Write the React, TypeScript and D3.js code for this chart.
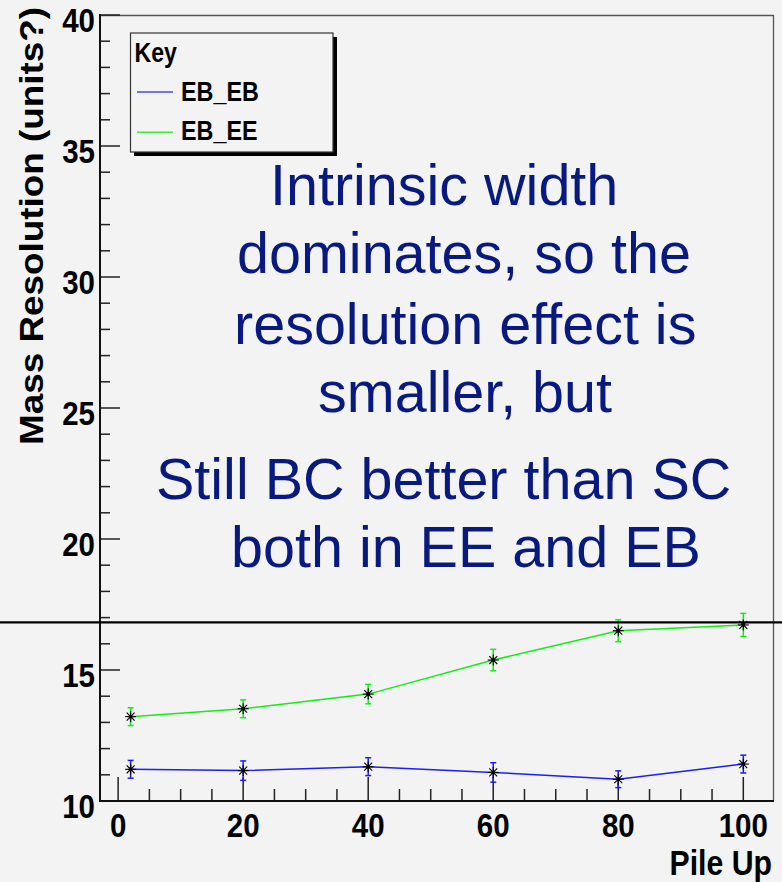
import React from "react";
import * as d3 from "d3";

const pileUp = [2, 20, 40, 60, 80, 100];
const ebEb = [11.21, 11.16, 11.31, 11.09, 10.83, 11.41];
const ebEbErr = [0.34, 0.37, 0.34, 0.37, 0.32, 0.34];
const ebEe = [13.22, 13.52, 14.08, 15.38, 16.5, 16.72];
const ebEeErr = [0.34, 0.34, 0.37, 0.41, 0.42, 0.44];
const seriesNames = ["EB_EB", "EB_EE"];
const seriesColors = ["#1c1cff", "#12ee12"];
const xMajorTicks = [0, 20, 40, 60, 80, 100];
const yMajorTicks = [10, 15, 20, 25, 30, 35, 40];
const annotationLine = 16.82;
const noteLines = [
  "Intrinsic width",
  "dominates, so the",
  "resolution effect is",
  "smaller, but",
  "Still BC better than SC",
  "both in EE and EB",
];

const W = 782;
const H = 882;
const BG = "#f3f3f3";
const NAVY = "#081a7e";
const FONT = "'Liberation Sans', Arial, Helvetica, sans-serif";

export default function App() {
  const x = d3.scaleLinear().domain([-2.9, 104.75]).range([100, 773]);
  const y = d3.scaleLinear().domain([10, 40]).range([801, 15]);

  const xMinor = d3.range(0, 101, 5).filter((v) => !xMajorTicks.includes(v));
  const yMinor = d3.range(10, 41, 1).filter((v) => !yMajorTicks.includes(v));

  const line = d3
    .line<number>()
    .x((_, i) => x(pileUp[i]))
    .y((d) => y(d));

  const series = [
    { vals: ebEb, errs: ebEbErr, color: seriesColors[0] },
    { vals: ebEe, errs: ebEeErr, color: seriesColors[1] },
  ];

  const notePos = [
    { x: 270, y: 205 },
    { x: 237, y: 273 },
    { x: 234, y: 344 },
    { x: 318, y: 412 },
    { x: 156, y: 499 },
    { x: 231, y: 567 },
  ];

  const marker = (cx: number, cy: number, key: string) => {
    const r = 5.5;
    const d = r * 0.72;
    return (
      <g key={key} stroke="#000" strokeWidth={1.1}>
        <line x1={cx - r} y1={cy} x2={cx + r} y2={cy} />
        <line x1={cx} y1={cy - r} x2={cx} y2={cy + r} />
        <line x1={cx - d} y1={cy - d} x2={cx + d} y2={cy + d} />
        <line x1={cx - d} y1={cy + d} x2={cx + d} y2={cy - d} />
        <circle cx={cx} cy={cy} r={2} fill="#000" stroke="none" />
      </g>
    );
  };

  return (
    <svg
      width={W}
      height={H}
      style={{ position: "absolute", left: 0, top: 0, background: BG }}
      fontFamily={FONT}
    >
      <rect x={0} y={0} width={W} height={H} fill={BG} />

      {/* frame top/right */}
      <line x1={100} y1={15.5} x2={773.5} y2={15.5} stroke="#555" strokeWidth={1.3} />
      <line x1={773.5} y1={15} x2={773.5} y2={801} stroke="#555" strokeWidth={1.3} />

      {/* y ticks */}
      {yMajorTicks.map((v) => (
        <line key={"ym" + v} x1={100} x2={120} y1={y(v)} y2={y(v)} stroke="#222" strokeWidth={1.5} />
      ))}
      {yMinor.map((v) => (
        <line key={"yn" + v} x1={100} x2={110} y1={y(v)} y2={y(v)} stroke="#222" strokeWidth={1.5} />
      ))}
      {/* x ticks */}
      {xMajorTicks.map((v) => (
        <line key={"xm" + v} x1={x(v)} x2={x(v)} y1={801} y2={777} stroke="#222" strokeWidth={1.5} />
      ))}
      {xMinor.map((v) => (
        <line key={"xn" + v} x1={x(v)} x2={x(v)} y1={801} y2={789} stroke="#222" strokeWidth={1.5} />
      ))}

      {/* axes */}
      <line x1={100} y1={14} x2={100} y2={802} stroke="#111" strokeWidth={2} />
      <line x1={99} y1={801} x2={774} y2={801} stroke="#111" strokeWidth={2} />

      {/* y tick labels */}
      {yMajorTicks.map((v) => (
        <text
          key={"yl" + v}
          transform={`translate(95, ${y(v) + 16.5}) scale(0.88, 1)`}
          textAnchor="end"
          fontSize={33.5}
          fontWeight="bold"
          fill="#000"
        >
          {v}
        </text>
      ))}
      {/* x tick labels */}
      {xMajorTicks.map((v) => (
        <text
          key={"xl" + v}
          transform={`translate(${x(v)}, 837) scale(0.88, 1)`}
          textAnchor="middle"
          fontSize={33.5}
          fontWeight="bold"
          fill="#000"
        >
          {v}
        </text>
      ))}

      {/* axis titles */}
      <text
        transform="translate(772, 875) scale(0.84, 1)"
        textAnchor="end"
        fontSize={36}
        fontWeight="bold"
        fill="#000"
      >
        Pile Up
      </text>
      <text
        transform="translate(42.5, 226) rotate(-90) scale(1.1, 1)"
        textAnchor="middle"
        fontSize={33.5}
        fontWeight="bold"
        fill="#000"
      >
        Mass Resolution (units?)
      </text>

      {/* series */}
      {series.map((s, si) => (
        <g key={"s" + si}>
          <path d={line(s.vals) || ""} fill="none" stroke={s.color} strokeWidth={1.5} />
          {s.vals.map((v, i) => {
            const cx = x(pileUp[i]);
            const t = y(v + s.errs[i]);
            const b = y(v - s.errs[i]);
            return (
              <g key={"e" + i} stroke={s.color} strokeWidth={1.5}>
                <line x1={cx} x2={cx} y1={t} y2={b} />
                <line x1={cx - 3} x2={cx + 3} y1={t} y2={t} />
                <line x1={cx - 3} x2={cx + 3} y1={b} y2={b} />
              </g>
            );
          })}
          {s.vals.map((v, i) => marker(x(pileUp[i]), y(v), "m" + si + i))}
        </g>
      ))}

      {/* horizontal annotation line */}
      <line x1={0} x2={W} y1={y(annotationLine)} y2={y(annotationLine)} stroke="#000" strokeWidth={2.2} />

      {/* legend */}
      <rect x={134} y={37} width={203} height={119} fill="#000" />
      <rect x={130.5} y={33} width={202.5} height={119} fill={BG} stroke="#333" strokeWidth={1.2} />
      <text
        transform="translate(134.5, 62) scale(0.84, 1)"
        fontSize={27.5}
        fontWeight="bold"
        fill="#000"
      >
        Key
      </text>
      {seriesNames.map((n, i) => (
        <g key={"lg" + i}>
          <line
            x1={137}
            x2={173}
            y1={92 + i * 40.3}
            y2={92 + i * 40.3}
            stroke={seriesColors[i]}
            strokeWidth={1.5}
            opacity={0.8}
          />
          <text
            transform={`translate(181, ${101 + i * 38.5}) scale(0.865, 1)`}
            fontSize={27}
            fontWeight="bold"
            fill="#000"
          >
            {n}
          </text>
        </g>
      ))}

      {/* slide annotation text */}
      {noteLines.map((t, i) => (
        <text key={"n" + i} x={notePos[i].x} y={notePos[i].y} fontSize={57.5} fill={NAVY}>
          {t}
        </text>
      ))}
    </svg>
  );
}
